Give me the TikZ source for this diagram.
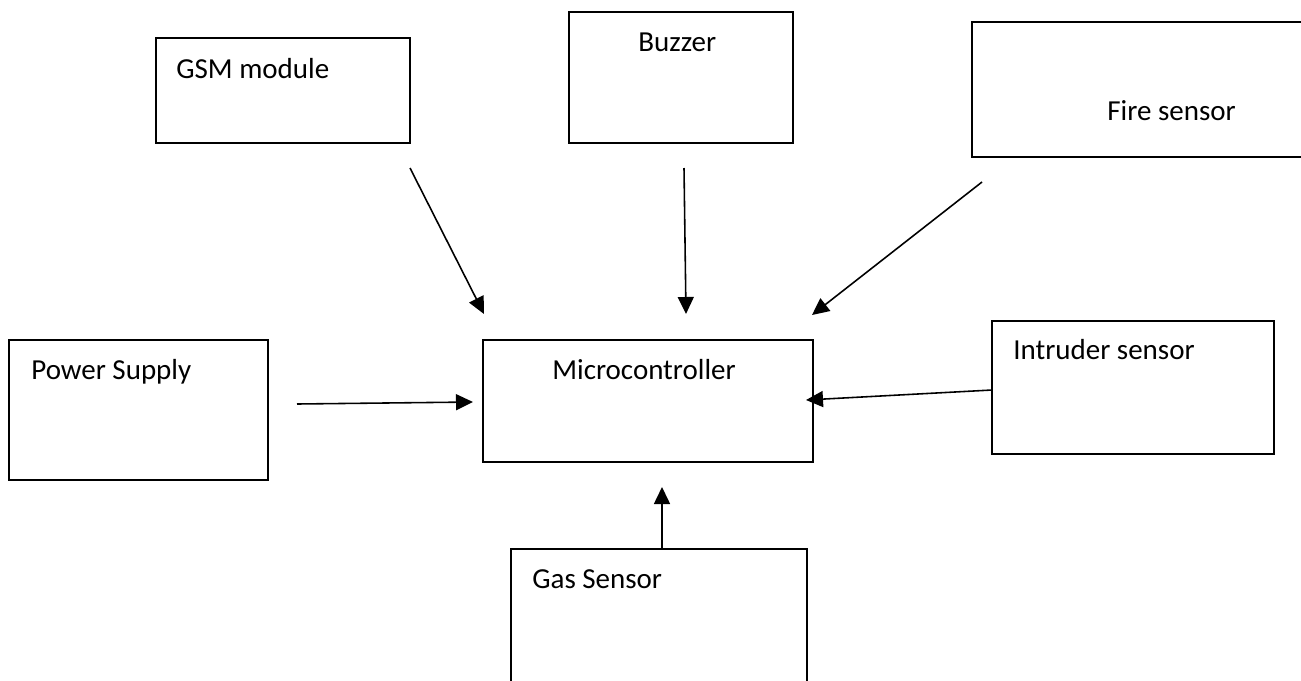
\documentclass[tikz,border=0pt]{standalone}
\usepackage{fontspec}
\setmainfont{Carlito}
\usetikzlibrary{arrows.meta}

\tikzset{
  box/.style={draw, line width=1.1pt, inner sep=0pt, outer sep=0pt, anchor=north west},
  lbl/.style={anchor=base west, inner sep=0pt, font=\fontsize{16.5}{20}\selectfont},
  arr/.style={line width=0.9pt, -{Triangle[length=0.34cm, width=0.32cm]}}
}

\begin{document}
\begin{tikzpicture}[x=0.02cm, y=-0.02cm]
    \useasboundingbox (0,0) rectangle (1301,680);
    \clip (0,0) rectangle (1301,680);

    % blocks
    \node[box, minimum width=254*0.02cm, minimum height=105*0.02cm] (gsm) at (156,38) {};
    \node[box, minimum width=224*0.02cm, minimum height=131*0.02cm] (buzzer) at (569,12) {};
    \node[box, minimum width=360*0.02cm, minimum height=135*0.02cm] (fire) at (972,22) {};
    \node[box, minimum width=259*0.02cm, minimum height=140*0.02cm] (power) at (9,340) {};
    \node[box, minimum width=330*0.02cm, minimum height=122*0.02cm] (micro) at (483,340) {};
    \node[box, minimum width=282*0.02cm, minimum height=133*0.02cm] (intruder) at (992,321) {};
    \node[box, minimum width=296*0.02cm, minimum height=160*0.02cm] (gas) at (511,549) {};

    % texts
    \node[lbl] (gsm-t) at (176,78) {GSM module};
    \node[lbl] (buzzer-t) at (638,51) {Buzzer};
    \node[lbl] (fire-t) at (1107,120) {Fire sensor};
    \node[lbl] (power-t) at (31,379) {Power Supply};
    \node[lbl] (micro-t) at (552,379) {Microcontroller};
    \node[lbl] (intruder-t) at (1013,359) {Intruder sensor};
    \node[lbl] (gas-t) at (532,588) {Gas Sensor};

    % arrow ends
    \coordinate (gsm-out) at (410,168);
    \coordinate (gsm-in) at (484,314);
    \coordinate (buzzer-out) at (684,168);
    \coordinate (buzzer-in) at (686,314);
    \coordinate (fire-out) at (982,182);
    \coordinate (fire-in) at (812,315);
    \coordinate (power-out) at (297,404);
    \coordinate (power-in) at (473,402);
    \coordinate (intruder-in) at (806,400);
    \coordinate (gas-in) at (662,487);

    \draw[arr] (gsm-out) -- (gsm-in);
    \draw[arr] (buzzer-out) -- (buzzer-in);
    \draw[arr] (fire-out) -- (fire-in);
    \draw[arr] (power-out) -- (power-in);
    \draw[arr] (intruder.west |- 0,390) -- (intruder-in);
    \draw[arr] (gas-in |- gas.north) -- (gas-in);
\end{tikzpicture}
\end{document}
